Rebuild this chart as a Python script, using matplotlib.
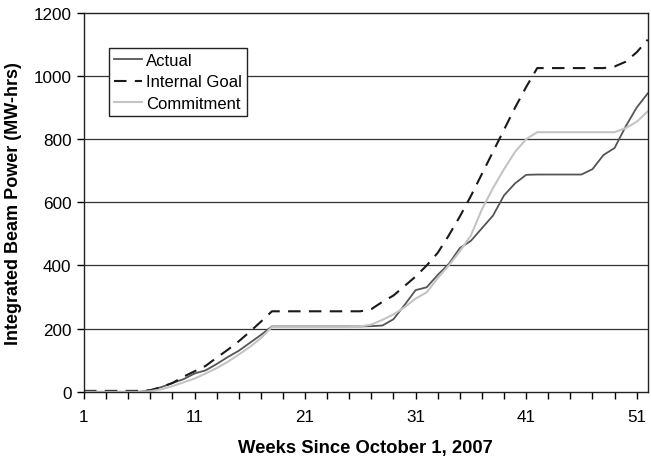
import numpy as np
import matplotlib.pyplot as plt

plt.rcParams['font.family'] = ['Liberation Sans', 'DejaVu Sans']

weeks = list(range(1, 53))

actual = [0, 0, 0, 0, 0, 0, 5, 15, 28, 40, 58, 68, 88, 110, 130, 155, 180, 207,
          207, 207, 207, 207, 207, 207, 207, 207, 208, 210, 230, 275, 322, 331, 370, 405,
          455, 478, 518, 558, 622, 660, 687, 688, 688, 688, 688, 688, 705, 750, 772,
          840, 900, 945]

goal = [3, 3, 3, 3, 3, 3, 5, 15, 28, 48, 65, 82, 108, 133, 160, 190, 222, 255,
        255, 255, 255, 255, 255, 255, 255, 255, 262, 285, 305, 335, 365, 400, 440, 495,
        555, 620, 690, 760, 830, 900, 965, 1025, 1025, 1025, 1025, 1025, 1025, 1025, 1030,
        1045, 1075, 1115]

commitment = [0, 0, 0, 0, 0, 0, 2, 8, 18, 30, 42, 58, 75, 95, 118, 142, 170, 205,
              205, 205, 205, 205, 205, 205, 205, 207, 213, 228, 245, 268, 295, 315, 360, 400,
              445, 495, 578, 645, 705, 760, 800, 822, 822, 822, 822, 822, 822, 822, 822,
              835, 855, 888]

fig = plt.figure(figsize=(6.51, 4.6), dpi=100)
ax = fig.add_axes([0.129, 0.146, 0.866, 0.824])

ax.plot(weeks, actual, color='#555555', lw=1.3, label='Actual')
ax.plot(weeks, goal, color='#1a1a1a', lw=1.5, dashes=(6, 4), label='Internal Goal')
ax.plot(weeks, commitment, color='#c4c4c4', lw=1.5, label='Commitment')

ax.set_xlim(1, 52)
ax.set_ylim(0, 1200)
ax.set_xticks(np.arange(1, 53, 2))
ax.set_xticklabels([str(w) if (w - 1) % 10 == 0 else '' for w in range(1, 53, 2)])
ax.set_yticks(range(0, 1201, 200))
ax.tick_params(axis='both', labelsize=12.3, length=5, width=1, direction='out', colors='black')
ax.tick_params(axis='x', pad=7)
ax.tick_params(axis='y', pad=4)

for v in range(200, 1200, 200):
    ax.axhline(v, color='#333333', lw=0.9, zorder=0)

for s in ax.spines.values():
    s.set_color('#222222')
    s.set_linewidth(1)

ax.set_xlabel('Weeks Since October 1, 2007', fontsize=13.3, fontweight='bold', labelpad=11)
ax.set_ylabel('Integrated Beam Power (MW-hrs)', fontsize=13, fontweight='bold', labelpad=8)

leg = ax.legend(loc='upper left', bbox_to_anchor=(0.044, 0.908), fontsize=12, frameon=True,
                fancybox=False, edgecolor='#222222', framealpha=1, handlelength=1.7,
                handletextpad=0.25, borderpad=0.3, labelspacing=0.4, borderaxespad=0)
leg.get_frame().set_linewidth(1)

fig.savefig('out.png', dpi=100)
